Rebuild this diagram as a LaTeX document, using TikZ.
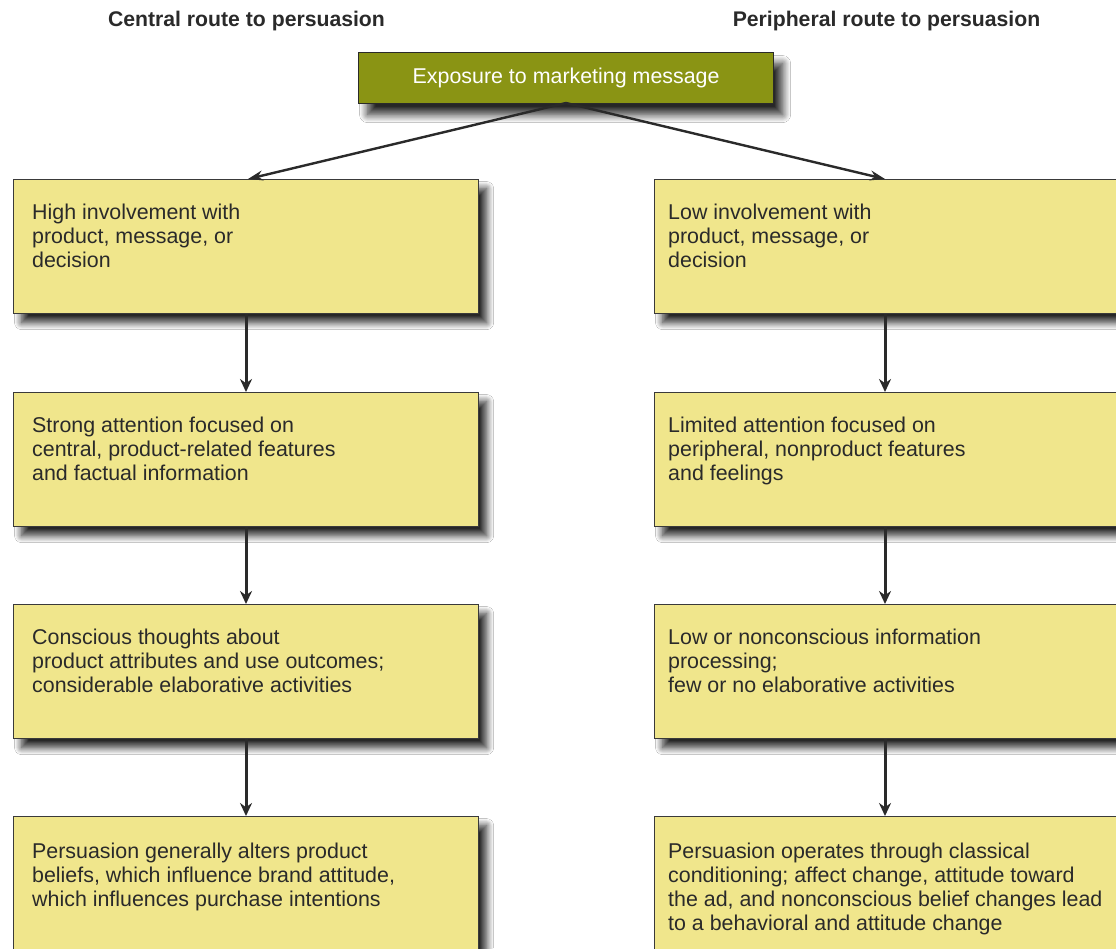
\documentclass[tikz,border=0pt]{standalone}
\usepackage{fontspec}
\setmainfont{Liberation Sans}
\usetikzlibrary{arrows.meta,shadows.blur}
\definecolor{olive}{HTML}{8A9414}
\definecolor{khakibox}{HTML}{F0E68C}
\definecolor{txt}{HTML}{2A2A2A}
\definecolor{edge}{HTML}{3A3A3A}
\begin{document}
\begin{tikzpicture}[x=1pt,y=-1pt,
  boxstyle/.style={draw=edge, line width=1.2pt, fill=khakibox, minimum width=465pt, minimum height=134pt, inner sep=0pt, anchor=north west,
    blur shadow={shadow xshift=8pt, shadow yshift=-9pt, shadow blur radius=7pt, shadow blur steps=14, shadow opacity=85}},
  boxtext/.style={anchor=north west, inner sep=0pt, align=left, text=txt, font=\fontsize{21.4}{24}\selectfont},
  title/.style={font=\bfseries\fontsize{21.2}{24}\selectfont, text=txt},
  conn/.style={draw=txt, line width=3pt, -{Stealth[length=13pt,width=12pt]}},
  diag/.style={draw=txt, line width=2.4pt, -{Stealth[length=15pt,width=10pt]}}]
\useasboundingbox (0,0) rectangle (1116,948);
\clip (0,0) rectangle (1116,948);
\fill[white] (0,0) rectangle (1116,948);

\node[title] (tl) at (246.5,21) {Central route to persuasion};
\node[title] (tr) at (886.5,21) {Peripheral route to persuasion};

\node[draw=txt, line width=1.2pt, fill=olive, minimum width=415pt, minimum height=51pt, inner sep=0pt, anchor=north west,
  text=white, font=\fontsize{21.4}{24}\selectfont,
  blur shadow={shadow xshift=9pt, shadow yshift=-11pt, shadow blur radius=8pt, shadow blur steps=14, shadow opacity=85}]
  (top) at (358,52) {Exposure to marketing message};

% left column
\node[boxstyle] (l1) at (13,179) {};
\node[boxstyle] (l2) at (13,392) {};
\node[boxstyle] (l3) at (13,604) {};
\node[boxstyle] (l4) at (13,816) {};
% right column
\node[boxstyle] (r1) at (654,179) {};
\node[boxstyle] (r2) at (654,392) {};
\node[boxstyle] (r3) at (654,604) {};
\node[boxstyle] (r4) at (654,816) {};

\node[boxtext] (tl1) at (32,204) {High involvement with\\product, message, or\\decision};
\node[boxtext] (tl2) at (32,417) {Strong attention focused on\\central, product-related features\\and factual information};
\node[boxtext] (tl3) at (32,629) {Conscious thoughts about\\product attributes and use outcomes;\\considerable elaborative activities};
\node[boxtext] (tl4) at (32,843) {Persuasion generally alters product\\beliefs, which influence brand attitude,\\which influences purchase intentions};

\node[boxtext] (tr1) at (668,204) {Low involvement with\\product, message, or\\decision};
\node[boxtext] (tr2) at (668,417) {Limited attention focused on\\peripheral, nonproduct features\\and feelings};
\node[boxtext] (tr3) at (668,629) {Low or nonconscious information\\processing;\\few or no elaborative activities};
\node[boxtext] (tr4) at (668,843) {Persuasion operates through classical\\conditioning; affect change, attitude toward\\the ad, and nonconscious belief changes lead\\to a behavioral and attitude change};

\coordinate (ts) at (566,103);
\coordinate (le) at (248,179);
\coordinate (re) at (885,179);
\draw[diag] (ts) -- (le);
\draw[diag] (ts) -- (re);

\foreach \a/\b in {l1/l2,l2/l3,l3/l4}{
  \draw[conn] (\a.south west) ++(233,0) coordinate (s\a) -- (s\a |- \b.north);
}
\foreach \a/\b in {r1/r2,r2/r3,r3/r4}{
  \draw[conn] (\a.south west) ++(231,0) coordinate (s\a) -- (s\a |- \b.north);
}
\end{tikzpicture}
\end{document}
